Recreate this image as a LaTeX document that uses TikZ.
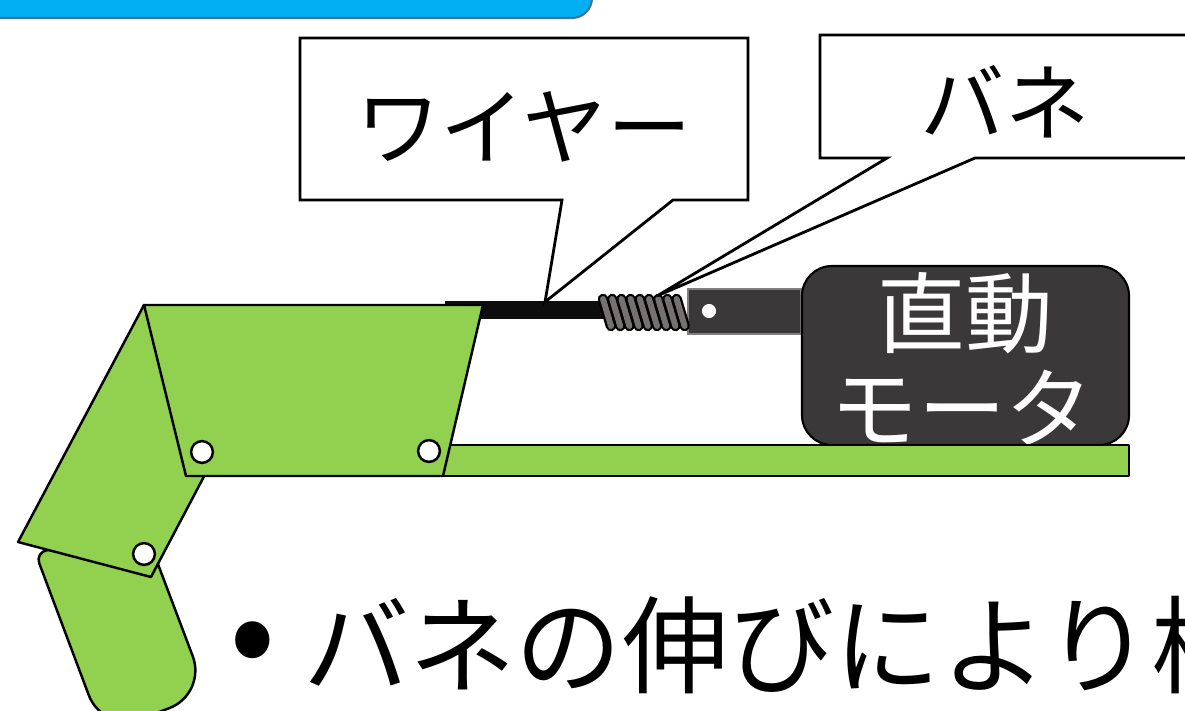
\documentclass[tikz,border=0pt]{standalone}
\usepackage{fontspec}
\newfontfamily\jpfont{Noto Sans CJK JP}

\definecolor{limbgreen}{HTML}{92D050}
\definecolor{titleblue}{HTML}{00B0F0}
\definecolor{titleedge}{HTML}{41719C}
\definecolor{motorgray}{HTML}{3A3838}
\definecolor{coilgray}{HTML}{767171}
\definecolor{rodedge}{HTML}{808080}

\tikzset{
	limb/.style={fill=limbgreen, draw=black, line width=1.4pt, line join=round},
	pin/.style={fill=white, draw=black, line width=1.4pt},
	callout/.style={fill=white, draw=black, line width=1.6pt, line join=miter},
	calloutText/.style={font=\jpfont\fontsize{48}{48}\selectfont, inner sep=0pt},
	motorText/.style={font=\jpfont\fontsize{50}{50}\selectfont, text=white, inner sep=0pt}
}

\begin{document}
\begin{tikzpicture}[x=0.02cm, y=-0.02cm]
	\useasboundingbox (0,0) rectangle (1185,710);
	\clip (0,0) rectangle (1185,710);
	
	% title bar
	\draw[fill=titleblue, draw=titleedge, line width=1.2pt]
		(-10,-20) -- (592,-20) -- (592,-2) arc[start angle=0, end angle=90, radius=20] -- (-10,18) -- cycle;
	
	% wire and rod
	\fill[black!95] (445,301) rectangle (605,319);
	\draw[fill=motorgray, draw=rodedge, line width=1.2pt] (688,289) rectangle (801,334);
	\draw[fill=white, draw=motorgray, line width=1pt] (709,311) circle[radius=4.6pt];
	
	% spring
	\foreach \i in {0,...,8}{
		\draw[line width=6pt, line cap=round] (603+9.2*\i,299) -- (611+9.2*\i,326);
		\draw[coilgray, line width=3.4pt, line cap=round] (603+9.2*\i,299) -- (611+9.2*\i,326);
	}
	
	% motor
	\draw[fill=motorgray, draw=black, line width=1.2pt, rounded corners=17pt] (802,266) rectangle (1129,445);
	\node[motorText] (motorTop) at (965,313) {直動};
	\node[motorText] (motorBottom) at (962,408) {モータ};
	
	% base
	\draw[limb] (430,445) rectangle (1129,476);
	
	% tip
	\draw[limb] (147,535) [rounded corners=23pt] -- (207,694) -- (103,733) [rounded corners=7pt] -- (35,552) -- cycle;
	
	% middle
	\draw[limb] (144,305) -- (18,542) -- (151,577) -- (239,410) -- cycle;
	
	% base link
	\draw[limb] (144,305) -- (483,305) -- (443,476) -- (186,476) -- cycle;
	
	% joints
	\draw[pin] (202,452) circle[radius=6.2pt];
	\draw[pin] (429,451) circle[radius=6.2pt];
	\draw[pin] (144,554) circle[radius=6.2pt];
	
	% callouts
	\draw[callout] (300,38) -- (748,38) -- (748,200) -- (673,200) -- (545,302) -- (562,200) -- (300,200) -- cycle;
	\node[calloutText] (wireLabel) at (524,127) {ワイヤー};
	
	\draw[callout] (820,35) -- (1200,35) -- (1200,158) -- (975,158) -- (657,296) -- (887,158) -- (820,158) -- cycle;
	\node[calloutText] (springLabel) at (1005,102) {バネ};
	
	% note
	\node[font=\jpfont\fontsize{78}{78}\selectfont, inner sep=0pt] (dot) at (253,651) {•};
	\node[font=\jpfont\fontsize{60.5}{60.5}\selectfont, inner sep=0pt, anchor=west] (note) at (303,645) {バネの伸びにより構};
\end{tikzpicture}
\end{document}
